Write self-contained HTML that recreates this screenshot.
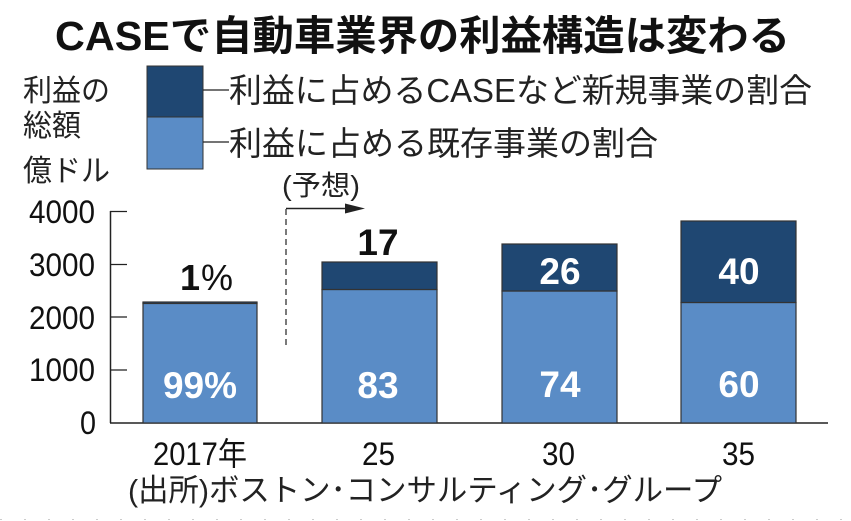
<!DOCTYPE html>
<html><head><meta charset="utf-8"><style>
html,body{margin:0;padding:0;background:#fff;}
svg{display:block;}
.jp{font-family:"Liberation Sans","Noto Sans CJK JP",sans-serif;}
</style></head><body>
<svg width="851" height="521" viewBox="0 0 851 521" xmlns="http://www.w3.org/2000/svg">
<rect width="851" height="521" fill="#fff"/>
<!-- Title -->
<text class="jp" x="55" y="50" font-size="41" font-weight="700" fill="#111" textLength="735" lengthAdjust="spacingAndGlyphs">CASEで自動車業界の利益構造は変わる</text>
<!-- Y unit label -->
<text class="jp" x="23" y="101" font-size="30" fill="#222" textLength="87" lengthAdjust="spacingAndGlyphs">利益の</text>
<text class="jp" x="23" y="136" font-size="30" fill="#222" textLength="58" lengthAdjust="spacingAndGlyphs">総額</text>
<text class="jp" x="23" y="181" font-size="30" fill="#222" textLength="87" lengthAdjust="spacingAndGlyphs">億ドル</text>
<!-- Legend -->
<rect x="147" y="66" width="56" height="51" fill="#1f4772" stroke="#333" stroke-width="1"/>
<rect x="147" y="117" width="56" height="52" fill="#5a8cc6" stroke="#333" stroke-width="1"/>
<line x1="203" y1="90" x2="229" y2="90" stroke="#222" stroke-width="1.3"/>
<line x1="203" y1="142" x2="229" y2="142" stroke="#222" stroke-width="1.3"/>
<text class="jp" x="229" y="102" font-size="33" fill="#222" textLength="583" lengthAdjust="spacingAndGlyphs">利益に占めるCASEなど新規事業の割合</text>
<text class="jp" x="229" y="155" font-size="33" fill="#222" textLength="429" lengthAdjust="spacingAndGlyphs">利益に占める既存事業の割合</text>
<!-- Forecast marker -->
<text class="jp" x="282" y="195" font-size="28" fill="#222" textLength="78" lengthAdjust="spacingAndGlyphs">(予想)</text>
<line x1="286" y1="208.5" x2="350" y2="208.5" stroke="#222" stroke-width="1.5"/>
<polygon points="345,203.5 365,208.5 345,213.5" fill="#222"/>
<line x1="286" y1="209" x2="286" y2="349" stroke="#333" stroke-width="1.3" stroke-dasharray="6,4"/>
<!-- Axes -->
<line x1="110.5" y1="211" x2="110.5" y2="423" stroke="#222" stroke-width="1.5"/>
<line x1="110" y1="423" x2="828" y2="423" stroke="#222" stroke-width="1.5"/>
<g stroke="#222" stroke-width="1.3">
<line x1="110" y1="211.5" x2="127" y2="211.5"/>
<line x1="110" y1="264.5" x2="127" y2="264.5"/>
<line x1="110" y1="317" x2="127" y2="317"/>
<line x1="110" y1="370" x2="127" y2="370"/>
</g>
<g class="jp" font-size="32" fill="#111" text-anchor="end">
<text x="95" y="223" textLength="66" lengthAdjust="spacingAndGlyphs">4000</text>
<text x="95" y="276" textLength="66" lengthAdjust="spacingAndGlyphs">3000</text>
<text x="95" y="329" textLength="66" lengthAdjust="spacingAndGlyphs">2000</text>
<text x="95" y="381" textLength="66" lengthAdjust="spacingAndGlyphs">1000</text>
<text x="96" y="434" textLength="16" lengthAdjust="spacingAndGlyphs">0</text>
</g>
<!-- Bars -->
<g stroke="#333" stroke-width="1.2">
<rect x="143" y="303" width="114" height="120" fill="#5a8cc6"/>
<rect x="143" y="302" width="114" height="1.5" fill="#1f4772"/>
<rect x="322" y="289.5" width="115" height="133.5" fill="#5a8cc6"/>
<rect x="322" y="262" width="115" height="27.5" fill="#1f4772"/>
<rect x="502" y="291" width="115" height="132" fill="#5a8cc6"/>
<rect x="502" y="244" width="115" height="47" fill="#1f4772"/>
<rect x="681" y="302.5" width="115" height="120.5" fill="#5a8cc6"/>
<rect x="681" y="221" width="115" height="81.5" fill="#1f4772"/>
</g>
<!-- Value labels -->
<g font-family="Liberation Sans, sans-serif" font-weight="700" font-size="37" text-anchor="middle">
<text x="200" y="398" fill="#fff">99%</text>
<text x="378" y="398" fill="#fff">83</text>
<text x="560" y="397" fill="#fff">74</text>
<text x="739" y="397" fill="#fff">60</text>
<text x="560" y="284" fill="#fff">26</text>
<text x="739" y="284" fill="#fff">40</text>
<text x="378" y="255" fill="#111">17</text>
</g>
<text x="180" y="290" font-family="Liberation Sans, sans-serif" font-size="36" fill="#111"><tspan font-weight="700">1</tspan><tspan dx="1">%</tspan></text>
<!-- Category labels -->
<g class="jp" font-size="32" fill="#111">
<text x="153" y="465" textLength="94" lengthAdjust="spacingAndGlyphs">2017年</text>
<text x="362" y="465" textLength="33" lengthAdjust="spacingAndGlyphs">25</text>
<text x="542" y="465" textLength="33" lengthAdjust="spacingAndGlyphs">30</text>
<text x="722" y="465" textLength="33" lengthAdjust="spacingAndGlyphs">35</text>
</g>
<!-- Source -->
<text class="jp" x="128" y="501" font-size="31" fill="#222" textLength="594" lengthAdjust="spacingAndGlyphs">(出所)ボストン･コンサルティング･グループ</text>
<line x1="0" y1="519.5" x2="851" y2="519.5" stroke="#ccc" stroke-width="1" stroke-dasharray="2,22"/>
</svg>
</body></html>
